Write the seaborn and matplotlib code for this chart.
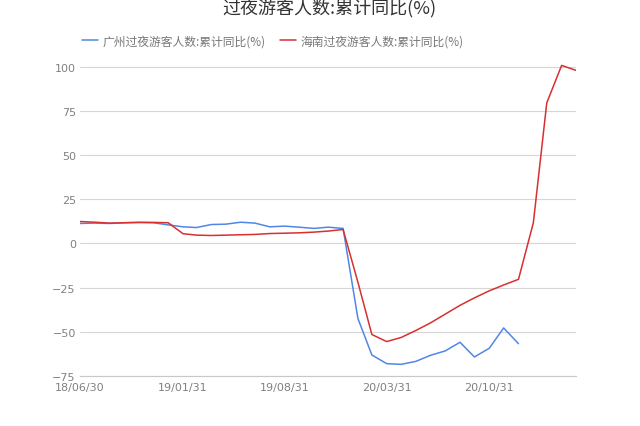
import matplotlib
matplotlib.use('Agg')
import matplotlib.pyplot as plt
import matplotlib.dates as mdates
import pandas as pd
import seaborn as sns

# monthly cumulative YoY (%)
gz_yoy = [11.3, 11.5, 11.3, 11.7, 11.9, 11.7, 10.5, 9.4, 9.0, 10.7,
          10.9, 12.0, 11.5, 9.4, 9.8, 9.2, 8.5, 9.2, 8.5, -42.5,
          -63.1, -68.0, -68.4, -66.7, -63.3, -60.8, -55.9, -64.2, -59.3, -47.8,
          -56.7]
hn_yoy = [12.4, 12.0, 11.5, 11.7, 11.9, 11.9, 11.7, 5.5, 4.7, 4.5,
          4.7, 4.9, 5.1, 5.6, 5.8, 6.0, 6.4, 7.0, 7.9, -22.0,
          -51.5, -55.5, -53.2, -49.2, -45.0, -40.0, -35.0, -30.8, -26.8, -23.5,
          -20.3, 11.7, 79.5, 100.7, 97.9]
gz_label = '广州过夜游客人数:累计同比(%)'
hn_label = '海南过夜游客人数:累计同比(%)'
title = '过夜游客人数:累计同比(%)'
tick_dates = ['2018-06-30', '2019-01-31', '2019-08-31', '2020-03-31', '2020-10-31']

dates = pd.date_range('2018-06-30', periods=len(hn_yoy), freq='ME')
df = pd.concat([
    pd.DataFrame({'date': dates[:len(gz_yoy)], 'value': gz_yoy, 'series': gz_label}),
    pd.DataFrame({'date': dates, 'value': hn_yoy, 'series': hn_label}),
])

sns.set_style('white')
plt.rcParams['font.family'] = ['Noto Sans CJK SC', 'DejaVu Sans']

fig = plt.figure(figsize=(6.4, 4.27), dpi=100)
ax = fig.add_axes([0.125, 0.117, 0.775, 0.737])

sns.lineplot(data=df, x='date', y='value', hue='series',
             palette=['#5087e6', '#d8302f'], linewidth=1.1, ax=ax, legend=False)

ax.set_xlim(dates[0], dates[-1])
ax.set_ylim(-75, 103)
ax.set_yticks([-75, -50, -25, 0, 25, 50, 75, 100])
ax.set_xticks(pd.to_datetime(tick_dates))
ax.xaxis.set_major_formatter(mdates.DateFormatter('%y/%m/%d'))
ax.grid(axis='y', color='#d6d6d6', linewidth=0.8)
ax.grid(axis='x', visible=False)
for s in ['top', 'right', 'left']:
    ax.spines[s].set_visible(False)
ax.spines['bottom'].set_color('#c8c8c8')
ax.tick_params(axis='y', length=0, labelsize=8, colors='#808080', pad=3)
ax.tick_params(axis='x', length=0, labelsize=8, colors='#808080', pad=4)
for lbl in ax.get_xticklabels() + ax.get_yticklabels():
    lbl.set_family('DejaVu Sans')
ax.set_xlabel('')
ax.set_ylabel('')

fig.text(0.515, 0.98, title, ha='center', va='center', fontsize=13, color='#333333')

handles = [plt.Line2D([], [], color='#5087e6', lw=1.1),
           plt.Line2D([], [], color='#d8302f', lw=1.1)]
fig.legend(handles, [gz_label, hn_label], loc='center left',
           bbox_to_anchor=(0.112, 0.902), ncol=2, frameon=False,
           fontsize=8.5, handlelength=1.35, handletextpad=0.4, columnspacing=1.2,
           labelcolor='#777777')

fig.savefig('out.png', dpi=100)
